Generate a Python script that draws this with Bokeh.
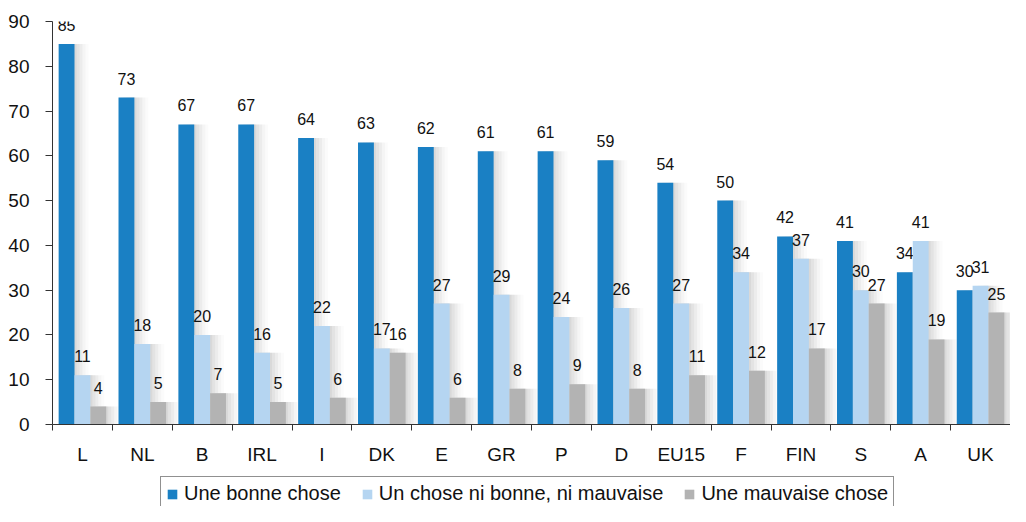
from bokeh.plotting import figure
from bokeh.models import ColumnDataSource, Range1d, FixedTicker, Legend, LegendItem
from bokeh.layouts import column
from bokeh.core.properties import value
from bokeh.transform import dodge
from bokeh.embed import file_html
from bokeh.resources import INLINE

categories = ["L", "NL", "B", "IRL", "I", "DK", "E", "GR", "P", "D", "EU15", "F", "FIN", "S", "A", "UK"]
bonne = [85, 73, 67, 67, 64, 63, 62, 61, 61, 59, 54, 50, 42, 41, 34, 30]
ni_ni = [11, 18, 20, 16, 22, 17, 27, 29, 24, 26, 27, 34, 37, 30, 41, 31]
mauvaise = [4, 5, 7, 5, 6, 16, 6, 8, 9, 8, 11, 12, 17, 27, 19, 25]
series_names = ["Une bonne chose", "Un chose ni bonne, ni mauvaise", "Une mauvaise chose"]
y_ticks = [0, 10, 20, 30, 40, 50, 60, 70, 80, 90]

colors = ["#1A80C4", "#B5D5F1", "#B3B3B3"]
FONT = "Liberation Sans"

pos = list(range(len(categories)))
src = ColumnDataSource(dict(x=pos, cat=categories, bonne=bonne, ni=ni_ni, mauv=mauvaise,
                            lb=[str(v) for v in bonne], ln=[str(v) for v in ni_ni],
                            lm=[str(v) for v in mauvaise]))

p = figure(frame_width=958, frame_height=403, output_backend="svg", toolbar_location=None,
           x_range=Range1d(-0.5, len(categories) - 0.5), y_range=Range1d(0, 90),
           min_border_left=52, min_border_right=0, min_border_top=21, min_border_bottom=46)
p.outline_line_color = None
p.xgrid.visible = False
p.ygrid.visible = False
p.background_fill_color = "white"
p.border_fill_color = "white"

bw = 0.265
offsets = [-bw, 0.0, bw]
cols = ["bonne", "ni", "mauv"]
labs = ["lb", "ln", "lm"]

# soft shadows behind bars
px = 1.0 / 60.0
for k in range(3):
    for s, a in [(2, 0.10), (5, 0.08), (8, 0.07), (11, 0.05), (14, 0.03)]:
        p.vbar(x=dodge("x", offsets[k] + s * px, range=p.x_range), top=cols[k], bottom=0,
               width=bw, source=src, fill_color="#808080", fill_alpha=a, line_color=None)

for k in range(3):
    p.vbar(x=dodge("x", offsets[k], range=p.x_range), top=cols[k], bottom=0, width=bw,
           source=src, fill_color=colors[k], line_color=None)
    p.text(x=dodge("x", offsets[k], range=p.x_range), y=cols[k], text=labs[k], source=src,
           text_font=value(FONT), text_font_size="16px", text_color="#111111",
           text_align="center", text_baseline="alphabetic", y_offset=-19)

# axes
xa = p.xaxis[0]
xa.ticker = FixedTicker(ticks=pos, minor_ticks=[i - 0.5 for i in range(len(categories) + 1)])
xa.major_label_overrides = {i: c for i, c in enumerate(categories)}
xa.major_tick_out = 0
xa.major_tick_in = 0
xa.minor_tick_out = 6
xa.minor_tick_in = 0
xa.minor_tick_line_color = "#333333"
xa.axis_line_color = "#333333"
xa.major_label_text_font = FONT
xa.major_label_text_font_size = "19px"
xa.major_label_text_color = "#111111"
xa.major_label_standoff = 13

ya = p.yaxis[0]
ya.ticker = FixedTicker(ticks=y_ticks)
ya.major_tick_out = 7
ya.major_tick_in = 0
ya.minor_tick_out = 0
ya.minor_tick_in = 0
ya.major_tick_line_color = "#333333"
ya.axis_line_color = "#333333"
ya.major_label_text_font = FONT
ya.major_label_text_font_size = "19px"
ya.major_label_text_color = "#111111"
ya.major_label_standoff = 16

# legend strip below the chart (its zero-width renderers draw nothing)
lg = figure(width=1010, height=36, output_backend="svg", toolbar_location=None,
            x_range=Range1d(-0.5, len(categories) - 0.5), y_range=Range1d(-20, -10),
            min_border=0)
lg.axis.visible = False
lg.grid.visible = False
lg.outline_line_color = None
lg.border_fill_color = "white"
lg.background_fill_color = "white"
dummies = []
for k in range(3):
    dummies.append(lg.vbar(x="x", top=cols[k], bottom=0, width=0, source=src,
                           fill_color=colors[k], line_color=None))

legend = Legend(items=[LegendItem(label=series_names[k], renderers=[dummies[k]]) for k in range(3)],
                orientation="horizontal", location=(108, -5), spacing=20, label_standoff=6,
                glyph_width=12, glyph_height=12, padding=5, margin=0,
                label_text_font=FONT, label_text_font_size="20px", label_text_color="#111111",
                border_line_color="#222222", border_line_width=1, background_fill_alpha=1.0)
lg.add_layout(legend, "center")

layout = column(p, lg, spacing=0)
open("out.html", "w").write(file_html(layout, INLINE))
